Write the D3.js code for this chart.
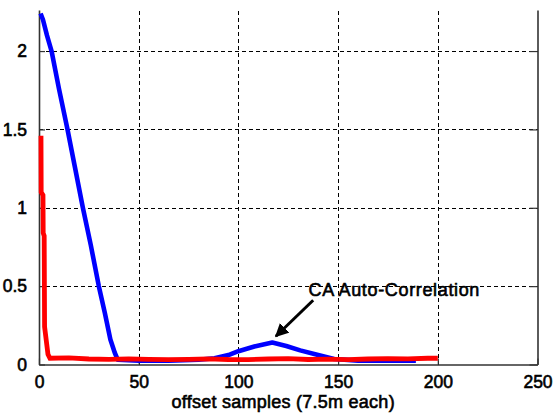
<!DOCTYPE html>
<html>
<head>
<meta charset="utf-8">
<script src="https://cdn.jsdelivr.net/npm/d3@7"></script>
<style>
html,body{margin:0;padding:0;background:#fff;}
svg{display:block;}
text{font-family:"Liberation Sans",Arial,Helvetica,sans-serif;fill:#000;}
</style>
</head>
<body>
<svg id="chart" width="553" height="414"></svg>
<script>
// ---- data ----
const xTicks = [0, 50, 100, 150, 200, 250];
const yTicks = [0, 0.5, 1, 1.5, 2];
const yTickLabels = ["0", "0.5", "1", "1.5", "2"];
const xLabel = "offset samples (7.5m each)";
const annotationText = "CA Auto-Correlation";
// blue series [offset, value]
const blueSeries = [
  [0.8, 2.24], [2, 2.2], [4, 2.1], [6.3, 2.0], [10, 1.76], [14.3, 1.5], [18, 1.26], [22, 1.0],
  [26, 0.76], [30, 0.5], [33, 0.33], [35.8, 0.16], [38, 0.075], [39.5, 0.03],
  [50, 0.025], [65, 0.025], [80, 0.03], [88, 0.04], [95, 0.06], [100, 0.085],
  [108, 0.115], [117, 0.14], [124, 0.118], [131, 0.09], [140, 0.06], [148, 0.035],
  [160, 0.025], [175, 0.025], [189, 0.025]
];
// red series [offset, value]
const redSeries = [
  [1, 1.46], [1.1, 1.10], [2, 1.08], [2.1, 0.84], [2.6, 0.82], [2.8, 0.24], [4.5, 0.065],
  [5.5, 0.04], [15, 0.042], [25, 0.035], [35, 0.033], [45, 0.036], [55, 0.033],
  [65, 0.031], [75, 0.033], [85, 0.036], [95, 0.032], [105, 0.031], [115, 0.035],
  [125, 0.037], [135, 0.032], [145, 0.034], [155, 0.031], [165, 0.035], [175, 0.037],
  [185, 0.036], [195, 0.04], [200, 0.04]
];
// annotation: arrow tail & tip, text anchor (data coords)
const arrowTail = [137.5, 0.41];
const arrowTip = [118.8, 0.18];
const textPos = [135.2, 0.437];

// ---- layout ----
const svg = d3.select("#chart");
const x = d3.scaleLinear().domain([0, 250]).range([39, 537.5]);
const y = d3.scaleLinear().domain([0, 2.262]).range([364.5, 10]);

// grid
const grid = svg.append("g").attr("stroke", "#000").attr("stroke-width", 1)
  .attr("stroke-dasharray", "4,3").attr("shape-rendering", "crispEdges");
grid.selectAll("line.v").data(xTicks.filter(d => d > 0 && d < 250)).enter().append("line")
  .attr("x1", d => Math.round(x(d)) + 0.5).attr("x2", d => Math.round(x(d)) + 0.5)
  .attr("y1", y.range()[0]).attr("y2", y.range()[1]);
grid.selectAll("line.h").data(yTicks.filter(d => d > 0)).enter().append("line")
  .attr("y1", d => Math.round(y(d)) + 0.5).attr("y2", d => Math.round(y(d)) + 0.5)
  .attr("x1", x.range()[0]).attr("x2", x.range()[1]);

// axes
const axisColor = "#333";
const xAxis = d3.axisBottom(x).tickValues(xTicks).tickSizeInner(-6).tickSizeOuter(0).tickPadding(11);
const gx = svg.append("g").attr("transform", `translate(0,${y.range()[0]})`).call(xAxis);
const yAxis = d3.axisLeft(y).tickValues(yTicks).tickFormat((d, i) => yTickLabels[i])
  .tickSizeInner(-6).tickSizeOuter(0).tickPadding(12);
const gy = svg.append("g").attr("transform", `translate(${x.range()[0]},0)`).call(yAxis);
const yAxisR = d3.axisRight(y).tickValues(yTicks).tickFormat("").tickSizeInner(-8).tickSizeOuter(0);
const gyr = svg.append("g").attr("transform", `translate(${x.range()[1]},0)`).call(yAxisR);
[gx, gy, gyr].forEach(g => {
  g.select(".domain").attr("stroke", axisColor).attr("stroke-width", 1.6);
  g.selectAll(".tick line").attr("stroke", axisColor).attr("stroke-width", 1.2);
  g.selectAll(".tick text").attr("font-size", 17.5).attr("fill", "#000")
    .attr("stroke", "#000").attr("stroke-width", 0.6);
});
gx.selectAll(".tick text").attr("dy", "0.71em");

// lines
const line = d3.line().x(d => x(d[0])).y(d => y(d[1]));
svg.append("path").datum(blueSeries).attr("d", line).attr("fill", "none")
  .attr("stroke", "#0000ff").attr("stroke-width", 4.6).attr("stroke-linejoin", "round");
svg.append("path").datum(redSeries).attr("d", line).attr("fill", "none")
  .attr("stroke", "#ff0000").attr("stroke-width", 4.8).attr("stroke-linejoin", "miter");

// x label
svg.append("text").attr("x", (x.range()[0] + x.range()[1]) / 2 - 5).attr("y", 408)
  .attr("text-anchor", "middle").attr("font-size", 18).attr("letter-spacing", 0.25)
  .attr("stroke", "#000").attr("stroke-width", 0.6).text(xLabel);

// annotation
const defs = svg.append("defs");
defs.append("marker").attr("id", "ah").attr("viewBox", "0 0 10 10").attr("refX", 9).attr("refY", 5)
  .attr("markerWidth", 4.5).attr("markerHeight", 4.5).attr("orient", "auto")
  .append("path").attr("d", "M0,0 L10,5 L0,10 z").attr("fill", "#000");
svg.append("line").attr("x1", x(arrowTail[0])).attr("y1", y(arrowTail[1]))
  .attr("x2", x(arrowTip[0])).attr("y2", y(arrowTip[1]))
  .attr("stroke", "#000").attr("stroke-width", 3).attr("marker-end", "url(#ah)");
svg.append("text").attr("x", x(textPos[0])).attr("y", y(textPos[1]))
  .attr("font-size", 18).attr("letter-spacing", 0.65)
  .attr("stroke", "#000").attr("stroke-width", 0.6).text(annotationText);
</script>
</body>
</html>
